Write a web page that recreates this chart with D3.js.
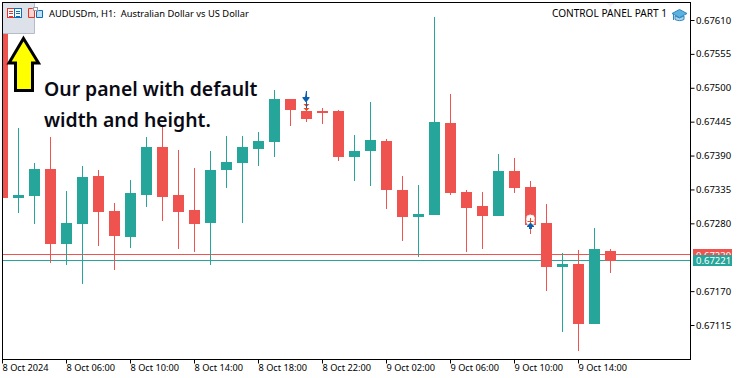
<!DOCTYPE html>
<html>
<head>
<meta charset="utf-8">
<script src="https://cdn.jsdelivr.net/npm/d3@7"></script>
<style>
  html, body { margin: 0; padding: 0; background: #fff; }
  svg { display: block; }
  text { font-family: "Noto Sans", sans-serif; }
</style>
</head>
<body>
<div id="chart"></div>
<script>
var opens = [0.67603,0.67322,0.67325,0.67369,0.67247,0.67280,0.67358,0.67301,0.67259,0.67327,
  0.67405,0.67327,0.67302,0.67281,0.67367,0.67379,0.67401,0.67413,0.67483,0.67463,
  0.67463,0.67463,0.67388,0.67398,0.67414,0.67335,0.67291,0.67294,0.67444,0.67332,
  0.67309,0.67293,0.67366,0.67340,0.67281,0.67210,0.67215,0.67117,0.67236];
var highs = [0.67603,0.67436,0.67379,0.67421,0.67333,0.67374,0.67367,0.67314,0.67351,0.67421,
  0.67437,0.67400,0.67371,0.67398,0.67423,0.67423,0.67429,0.67497,0.67483,0.67492,
  0.67468,0.67465,0.67424,0.67478,0.67418,0.67358,0.67343,0.67616,0.67491,0.67335,
  0.67332,0.67393,0.67387,0.67350,0.67312,0.67233,0.67237,0.67273,0.67239];
var lows = [0.67322,0.67298,0.67280,0.67216,0.67213,0.67182,0.67244,0.67205,0.67241,0.67307,
  0.67285,0.67239,0.67234,0.67213,0.67338,0.67281,0.67374,0.67388,0.67439,0.67445,
  0.67442,0.67382,0.67350,0.67341,0.67304,0.67252,0.67226,0.67294,0.67327,0.67234,
  0.67239,0.67293,0.67330,0.67263,0.67171,0.67104,0.67074,0.67117,0.67200];
var closes = [0.67322,0.67327,0.67369,0.67247,0.67281,0.67356,0.67299,0.67260,0.67330,0.67405,
  0.67324,0.67299,0.67280,0.67367,0.67380,0.67405,0.67414,0.67483,0.67465,0.67450,
  0.67460,0.67388,0.67398,0.67416,0.67335,0.67291,0.67296,0.67445,0.67330,0.67306,
  0.67293,0.67366,0.67338,0.67278,0.67210,0.67215,0.67117,0.67239,0.67220];

var priceTicks = [0.67610,0.67555,0.67500,0.67445,0.67390,0.67335,0.67280,0.67170,0.67115];
var timeIndex = [0,4,8,12,16,20,24,28,32,36];
var timeLabels = ["8 Oct 2024","8 Oct 06:00","8 Oct 10:00","8 Oct 14:00","8 Oct 18:00",
  "8 Oct 22:00","9 Oct 02:00","9 Oct 06:00","9 Oct 10:00","9 Oct 14:00"];
var askPrice = 0.67230, bidPrice = 0.67221;

var red = "#ef5350", green = "#26a69a";
var width = 738, height = 378;
var left = 2.5, right = 690.5, top_ = 2.5, bottom = 359.5;

var svg = d3.select("#chart").append("svg")
  .attr("width", width)
  .attr("height", height);

var x = d3.scaleLinear().domain([0, 38]).range([2.5, 610.5]);
var y = d3.scaleLinear().domain([0.67610, 0.67115]).range([20.5, 325.5]);

svg.append("clipPath").attr("id", "plot").append("rect")
  .attr("x", left + 0.5).attr("y", top_ + 0.5)
  .attr("width", right - left - 1).attr("height", bottom - top_ - 1);

var plot = svg.append("g").attr("clip-path", "url(#plot)");

// small triangle at the top, shift marker of the terminal
plot.append("path")
  .attr("d", "M" + (x(38) - 4) + "," + 3 + "L" + (x(38) + 4) + ",3L" + x(38) + ",7Z")
  .attr("fill", "#eeeef2");

// price lines
[[askPrice, red], [bidPrice, green]].forEach(function(d) {
  var py = Math.floor(y(d[0])) + 0.5;
  plot.append("line")
    .attr("x1", left).attr("x2", right)
    .attr("y1", py).attr("y2", py)
    .attr("stroke", d[1]);
});

var candles = d3.range(opens.length);
function col(i) { return closes[i] >= opens[i] ? green : red; }

plot.selectAll(".wick").data(candles).enter().append("line")
  .attr("class", "wick")
  .attr("x1", function(i) { return x(i); })
  .attr("x2", function(i) { return x(i); })
  .attr("y1", function(i) { return Math.round(y(highs[i])); })
  .attr("y2", function(i) { return Math.round(y(lows[i])); })
  .attr("stroke", col);

plot.selectAll(".body").data(candles).enter().append("rect")
  .attr("class", "body")
  .attr("x", function(i) { return x(i) - 5.5; })
  .attr("width", 11)
  .attr("y", function(i) { return Math.round(y(Math.max(opens[i], closes[i]))); })
  .attr("height", function(i) {
    return Math.round(y(Math.min(opens[i], closes[i]))) - Math.round(y(Math.max(opens[i], closes[i])));
  })
  .attr("fill", col);

// trade markers
var m1 = svg.append("g").attr("transform", "translate(" + x(19) + ",0)");
m1.append("path").attr("d", "M-0.5,91h1v6h2.5v1l-3,4h-1l-3,-4v-1h2.5z").attr("fill", "#0b5fb0");
m1.append("path").attr("d", "M-3,104h6l-3,3zM-3,108h6l-3,3z").attr("fill", "#e8481c");
m1.append("rect").attr("x", -0.5).attr("y", 102).attr("width", 1).attr("height", 6).attr("fill", "#0b5fb0");

var m2 = svg.append("g").attr("transform", "translate(" + x(33) + ",0)");
m2.append("rect").attr("x", -4).attr("y", 215).attr("width", 8).attr("height", 10).attr("rx", 3)
  .attr("fill", "#fff").attr("stroke", "#e4e6ec").attr("stroke-dasharray", "1.5 1.5");
m2.append("path").attr("d", "M-3,221h6v1h-6zM-0.5,218h1v5h-1z").attr("fill", "#e8481c");
m2.append("path").attr("d", "M-0.5,223h1l3,3v1h-2v2h-3v-2h-2v-1z").attr("fill", "#0b5fb0");

// frame
svg.append("rect")
  .attr("x", left).attr("y", top_)
  .attr("width", right - left).attr("height", bottom - top_)
  .attr("fill", "none").attr("stroke", "#000");

// axes
var yAxis = d3.axisRight(y).tickValues(priceTicks).tickFormat(d3.format(".5f"))
  .tickSize(4).tickPadding(1.5).offset(0);
var gy = svg.append("g").attr("transform", "translate(" + right + ",0)").call(yAxis);
gy.select(".domain").remove();
gy.selectAll("text").attr("font-size", 9.5).attr("font-family", "'Noto Sans', sans-serif").attr("fill", "#000");

var xAxis = d3.axisBottom(x).tickValues(timeIndex)
  .tickFormat(function(d) { return timeLabels[timeIndex.indexOf(d)]; })
  .tickSize(4).offset(0);
var gx = svg.append("g").attr("transform", "translate(0," + bottom + ")").call(xAxis);
gx.select(".domain").remove();
gx.selectAll("text")
  .attr("text-anchor", "start").attr("y", 5).attr("dy", "0.71em")
  .attr("font-size", 9.2).attr("font-family", "'Noto Sans', sans-serif").attr("fill", "#000");

// price labels
[[askPrice, red, 249, 6], [bidPrice, green, 255, 11]].forEach(function(d) {
  var g = svg.append("g");
  var id = "lab" + d[2];
  g.append("clipPath").attr("id", id).append("rect")
    .attr("x", 693).attr("y", d[2]).attr("width", 39).attr("height", d[3]);
  g.append("rect").attr("x", 693).attr("y", d[2]).attr("width", 39).attr("height", d[3]).attr("fill", d[1]);
  g.append("text").attr("x", 696).attr("y", d[2] === 249 ? 259 : 264)
    .attr("clip-path", "url(#" + id + ")")
    .attr("font-size", 9.5).attr("fill", "#fff")
    .text(d3.format(".5f")(d[0]));
});

// panel in the corner
svg.append("rect").attr("x", 3).attr("y", 3).attr("width", 31).attr("height", 30).attr("fill", "#dde1ea");
svg.append("path").attr("d", "M34.5,3V33.5H3").attr("fill", "none").attr("stroke", "#b4bcc8");

// panel icons
var ic = svg.append("g").attr("fill", "none");
ic.append("rect").attr("x", 7.5).attr("y", 8.5).attr("width", 7).attr("height", 9).attr("fill", "#fff").attr("stroke", "#e8332a");
ic.append("rect").attr("x", 14.5).attr("y", 8.5).attr("width", 7).attr("height", 9).attr("fill", "#fff").attr("stroke", "#0b6fb8");
ic.append("path").attr("d", "M9,11h4M9,13.5h4M9,16h4").attr("stroke", "#e8332a").attr("shape-rendering", "crispEdges");
ic.append("path").attr("d", "M16,11h4M16,13.5h4M16,16h4").attr("stroke", "#0b6fb8").attr("shape-rendering", "crispEdges");
ic.append("path").attr("d", "M28.5,8.5h4l2,2v7h-6z").attr("fill", "#fbd5d0").attr("stroke", "#e8332a");
ic.append("path").attr("d", "M36.5,11.5l2,-1h4v7h-6z").attr("fill", "#bfe0f5").attr("stroke", "#0b6fb8");
ic.append("rect").attr("x", 33.5).attr("y", 7.5).attr("width", 4).attr("height", 3).attr("fill", "#fff").attr("stroke", "#9aa0aa");

// header text
svg.append("text").attr("x", 49).attr("y", 17).attr("font-size", 9.35)
  .style("white-space", "pre")
  .text("AUDUSDm, H1:  Australian Dollar vs US Dollar");
svg.append("text").attr("x", 667).attr("y", 17).attr("text-anchor", "end").attr("font-size", 10.1)
  .style("white-space", "pre")
  .text("CONTROL PANEL PART 1");

// graduation cap
var cap = svg.append("g");
cap.append("path").attr("d", "M672,13.5l7.5,-4l7.5,4l-7.5,4z").attr("fill", "#5bb2e0").attr("stroke", "#2f86bd");
cap.append("path").attr("d", "M675,16v3.5c3,1.5 6,1.5 9,0v-3.5l-4.5,2z").attr("fill", "#a9d6ef").attr("stroke", "#2f86bd");
cap.append("path").attr("d", "M673.5,14v6").attr("stroke", "#2f86bd");

// yellow arrow
svg.append("path")
  .attr("d", "M23.5,38.5L38.5,63H32.5V90.5H15.5V63H9Z")
  .attr("fill", "#ffff00").attr("stroke", "#000").attr("stroke-width", 3);

// note text
svg.append("text").attr("x", 44).attr("y", 96).attr("font-size", 19.4).attr("font-weight", 600).attr("fill", "#0a0a14")
  .text("Our panel with default");
svg.append("text").attr("x", 44).attr("y", 127).attr("font-size", 19.4).attr("font-weight", 600).attr("fill", "#0a0a14")
  .text("width and height.");
</script>
</body>
</html>
